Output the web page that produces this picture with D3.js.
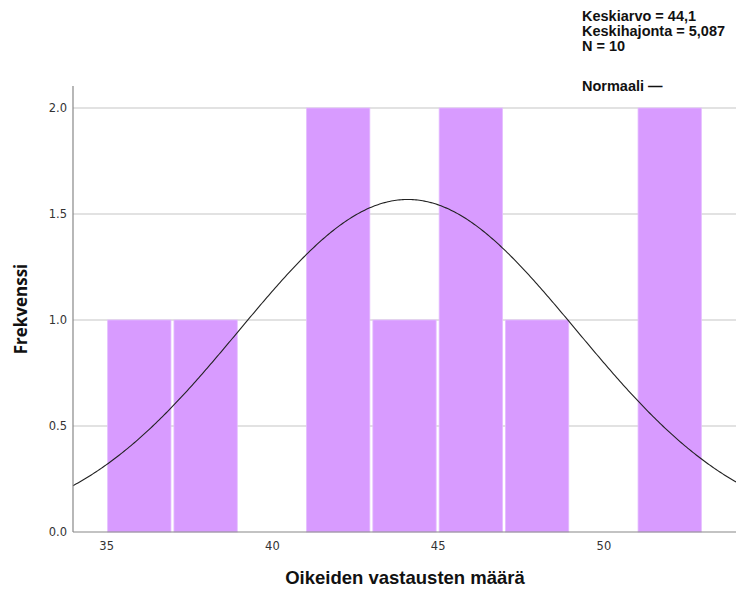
<!DOCTYPE html>
<html>
<head>
<meta charset="utf-8">
<script src="https://cdn.jsdelivr.net/npm/d3@7"></script>
<style>
  body { margin: 0; background: #fff; }
  svg { display: block; font-family: "Liberation Sans", Arial, sans-serif; }
</style>
</head>
<body>
<svg id="chart" width="736" height="594"></svg>
<script>
// Histogram bins (lower edge, upper edge) and their frequencies
const binStarts = [35, 37, 41, 43, 45, 47, 51];
const binEnds   = [37, 39, 43, 45, 47, 49, 53];
const counts    = [1, 1, 2, 1, 2, 1, 2];

// Summary statistics shown in the legend
const mean = 44.1;
const sd = 5.087;
const n = 10;
const binWidth = 2;

const xTicks = [35, 40, 45, 50];
const yTicks = [0, 0.5, 1.0, 1.5, 2.0];

const svg = d3.select("#chart");

const plotLeft = 73, plotRight = 736, plotTop = 86, plotBottom = 532;

const x = d3.scaleLinear().domain([34, 54]).range([plotLeft, plotRight]);
const y = d3.scaleLinear().domain([0, 2]).range([plotBottom, 108]);

// Horizontal grid lines
svg.append("g")
  .selectAll("line")
  .data(yTicks.filter(d => d > 0))
  .join("line")
  .attr("x1", plotLeft).attr("x2", plotRight)
  .attr("y1", d => y(d)).attr("y2", d => y(d))
  .attr("stroke", "#d9d9d9")
  .attr("stroke-width", 1.5);

// Bars
const bins = binStarts.map((s, i) => ({ x0: s, x1: binEnds[i], count: counts[i] }));
svg.append("g")
  .selectAll("rect")
  .data(bins)
  .join("rect")
  .attr("x", d => x(d.x0) + 1.5)
  .attr("width", d => x(d.x1) - x(d.x0) - 3)
  .attr("y", d => y(d.count))
  .attr("height", d => y(0) - y(d.count))
  .attr("fill", "#d89bff")
  .attr("stroke", "#e4bcff")
  .attr("stroke-width", 0.8);

// Normal curve scaled to frequency
const pts = d3.range(34, 54.0001, 0.05).map(v => {
  const z = (v - mean) / sd;
  const dens = Math.exp(-0.5 * z * z) / (sd * Math.sqrt(2 * Math.PI));
  return [v, dens * n * binWidth];
});
svg.append("path")
  .datum(pts)
  .attr("fill", "none")
  .attr("stroke", "#222")
  .attr("stroke-width", 1.1)
  .attr("d", d3.line().x(d => x(d[0])).y(d => y(d[1])));

// Axes
const yAxis = d3.axisLeft(y).tickValues(yTicks).tickFormat(d3.format(".1f")).tickSize(0).tickPadding(6);
const gy = svg.append("g").attr("transform", `translate(${plotLeft},0)`).call(yAxis);
gy.select(".domain").remove();
gy.selectAll("text").attr("fill", "#333")
  .attr("font-family", "'DejaVu Sans', sans-serif").style("font-size", "11.5px");

const xAxis = d3.axisBottom(x).tickValues(xTicks).tickSize(0).tickPadding(10);
const gx = svg.append("g").attr("transform", `translate(0,${plotBottom})`).call(xAxis);
gx.select(".domain").remove();
gx.selectAll("text").attr("fill", "#333")
  .attr("font-family", "'DejaVu Sans', sans-serif").style("font-size", "11.5px");

svg.append("line")
  .attr("x1", plotLeft).attr("x2", plotLeft).attr("y1", plotTop).attr("y2", plotBottom)
  .attr("stroke", "#888").attr("stroke-width", 1.2);
svg.append("line")
  .attr("x1", plotLeft).attr("x2", plotRight).attr("y1", plotBottom).attr("y2", plotBottom)
  .attr("stroke", "#888").attr("stroke-width", 1.2);

// Axis titles
svg.append("text")
  .attr("x", 405).attr("y", 584)
  .attr("text-anchor", "middle")
  .attr("font-weight", "bold").attr("font-size", 18.5).attr("fill", "#111")
  .attr("font-family", "'Liberation Sans', Arial, sans-serif")
  .text("Oikeiden vastausten määrä");

svg.append("text")
  .attr("transform", "translate(27,309) rotate(-90)")
  .attr("text-anchor", "middle")
  .attr("font-weight", "bold").attr("font-size", 17).attr("fill", "#111")
  .attr("font-family", "'Open Sans', sans-serif")
  .text("Frekvenssi");

// Legend
const fmt = v => String(v).replace(".", ",");
const legend = [
  { t: `Keskiarvo = ${fmt(mean)}`, y: 21 },
  { t: `Keskihajonta = ${fmt(sd)}`, y: 36 },
  { t: `N = ${n}`, y: 51 },
  { t: "Normaali —", y: 91 }
];
svg.append("g")
  .selectAll("text")
  .data(legend)
  .join("text")
  .attr("x", 582).attr("y", d => d.y)
  .attr("font-weight", "bold").attr("font-size", 14.5).attr("fill", "#111")
  .text(d => d.t);
</script>
</body>
</html>
